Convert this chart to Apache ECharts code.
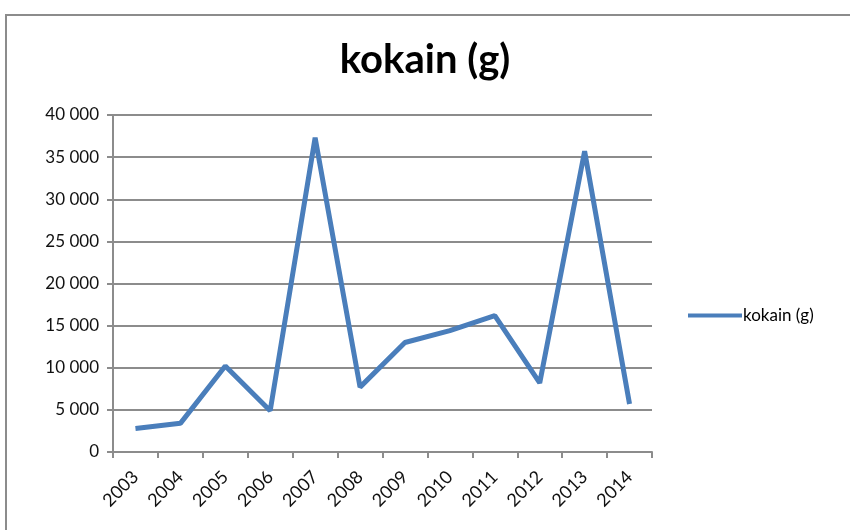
<!DOCTYPE html>
<html>
<head>
<meta charset="utf-8">
<script src="https://cdn.jsdelivr.net/npm/echarts@6/dist/echarts.min.js"></script>
<style>
html,body{margin:0;padding:0;background:#fff;}
#chart{width:850px;height:530px;}
</style>
</head>
<body>
<div id="chart"></div>
<script>
var years = ['2003','2004','2005','2006','2007','2008','2009','2010','2011','2012','2013','2014'];
var kokain = [2800, 3400, 10200, 4900, 37300, 7700, 13000, 14400, 16200, 8200, 35700, 5700];
var seriesName = 'kokain (g)';

var myChart = echarts.init(document.getElementById('chart'));

function fmt(v) {
  // tusental med mellanslag
  return String(v).replace(/\B(?=(\d{3})+(?!\d))/g, ' ');
}

var option = {
  backgroundColor: '#fff',
  animation: false,
  textStyle: { fontFamily: 'Lato, "Open Sans", sans-serif' },
  graphic: [{
    type: 'rect',
    shape: { x: 6, y: 15, width: 900, height: 600 },
    style: { fill: 'none', stroke: '#8c8c8c', lineWidth: 2 },
    silent: true
  }],
  title: {
    text: seriesName,
    left: 'center',
    top: 40,
    padding: [0, 0, 0, 36],
    textStyle: { fontSize: 40, fontWeight: 'bold', color: '#000', fontFamily: 'Lato, sans-serif' }
  },
  legend: {
    left: 683,
    top: 302,
    itemWidth: 54,
    itemHeight: 4,
    itemGap: 2,
    icon: 'rect',
    textStyle: { fontSize: 17, color: '#000', padding: [0, 0, 0, -4] },
    data: [seriesName]
  },
  grid: { left: 113, right: 198, top: 115, bottom: 78 },
  xAxis: {
    type: 'category',
    data: years,
    boundaryGap: true,
    axisLine: { lineStyle: { color: '#8c8c8c', width: 2 } },
    axisTick: { show: true, length: 6, lineStyle: { color: '#8c8c8c', width: 2 } },
    axisLabel: { rotate: 45, fontSize: 18, color: '#111', margin: 22, interval: 0 },
    splitLine: { show: false }
  },
  yAxis: {
    type: 'value',
    min: 0,
    max: 40000,
    interval: 5000,
    axisLine: { show: true, lineStyle: { color: '#8c8c8c', width: 2 } },
    axisTick: { show: true, length: 6, lineStyle: { color: '#8c8c8c', width: 2 } },
    axisLabel: { fontSize: 17, color: '#111', margin: 14, formatter: fmt },
    splitLine: { lineStyle: { color: '#8c8c8c', width: 2 } }
  },
  series: [{
    name: seriesName,
    type: 'line',
    data: kokain,
    symbol: 'none',
    lineStyle: { color: '#4a7ebb', width: 5 },
    itemStyle: { color: '#4a7ebb' }
  }]
};

myChart.setOption(option);
</script>
</body>
</html>
